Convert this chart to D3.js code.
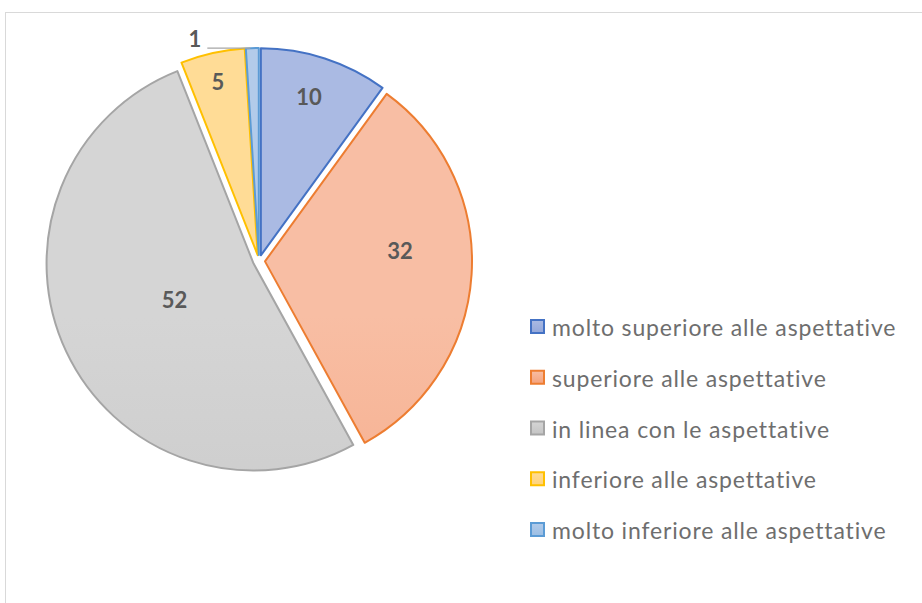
<!DOCTYPE html>
<html><head><meta charset="utf-8">
<script src="https://cdn.jsdelivr.net/npm/d3@7"></script>
<style>body{margin:0;background:#fff;}svg{display:block;}</style>
</head><body>
<svg id="c" width="922" height="603"></svg>
<script>
const categories = ["molto superiore alle aspettative","superiore alle aspettative","in linea con le aspettative","inferiore alle aspettative","molto inferiore alle aspettative"];
const values = [10, 32, 52, 5, 1];
const strokeColors = ["#4472C4","#ED7D31","#A5A5A5","#FFC000","#5B9BD5"];
const fillTop = ["#AABAE3","#F8BEA4","#D5D5D5","#FFDC96","#B2CBEA"];
const fillBottom = ["#93A7DA","#F4A27C","#C4C4C4","#FFD37C","#9BBEE4"];

const svg = d3.select("#c");
const W = 922, H = 603;
svg.append("rect").attr("x",5.5).attr("y",12.5).attr("width",W).attr("height",H)
  .attr("fill","#fff").attr("stroke","#D9D9D9").attr("stroke-width",1);

const cx = 259, cy = 261, R = 207, explode = 6;
const defs = svg.append("defs");
values.forEach((v,i)=>{
  const g = defs.append("linearGradient").attr("id","g"+i).attr("gradientUnits","userSpaceOnUse")
    .attr("x1",0).attr("y1",cy-R).attr("x2",0).attr("y2",cy+R);
  g.append("stop").attr("offset","0").attr("stop-color",fillTop[i]);
  g.append("stop").attr("offset","1").attr("stop-color",fillBottom[i]);
});

const pie = d3.pie().sort(null).value(d=>d)(values);
const arc = d3.arc().innerRadius(0).outerRadius(R);
// label placement (best-fit style): radial fraction and angle offset in degrees
const labelFrac = [0.80, 0.655, 0.42, 0.86, null];
const labelAng = [-1.1, -8.4, 0.6, -0.3, 0];

const gp = svg.append("g").attr("transform",`translate(${cx},${cy})`);
pie.forEach((p,i)=>{
  const m = (p.startAngle+p.endAngle)/2;
  const dx = Math.sin(m)*explode, dy = -Math.cos(m)*explode;
  gp.append("path").attr("d",arc(p)).attr("transform",`translate(${dx},${dy})`)
    .attr("fill",`url(#g${i})`).attr("stroke",strokeColors[i]).attr("stroke-width",2).attr("stroke-linejoin","round");
});
pie.forEach((p,i)=>{
  const m = (p.startAngle+p.endAngle)/2;
  const dx = Math.sin(m)*explode, dy = -Math.cos(m)*explode;
  if(labelFrac[i]!==null){
    const rr = R*labelFrac[i];
    const a = m + labelAng[i]*Math.PI/180;
    gp.append("text").attr("x",dx+Math.sin(a)*rr).attr("y",dy-Math.cos(a)*rr)
      .attr("text-anchor","middle").attr("dominant-baseline","central")
      .attr("font-family","Lato, sans-serif").attr("font-weight","bold").attr("font-size",22)
      .attr("fill","#595959").text(values[i]);
  } else {
    const px = dx+Math.sin(m)*R, py = dy-Math.cos(m)*R;
    gp.append("line").attr("x1",px-2).attr("y1",py).attr("x2",px-45).attr("y2",py)
      .attr("stroke","#A6A6A6").attr("stroke-width",1.2);
    gp.append("text").attr("x",px-51).attr("y",py-1).attr("text-anchor","end")
      .attr("font-family","Lato, sans-serif").attr("font-weight","bold").attr("font-size",22)
      .attr("fill","#595959").text(values[i]);
  }
});

const leg = svg.append("g");
const legY = d3.scalePoint().domain(categories).range([327, 530]);
categories.forEach((c,i)=>{
  const y = legY(c);
  const lg = defs.append("linearGradient").attr("id","lg"+i).attr("x1",0).attr("y1",0).attr("x2",0).attr("y2",1);
  lg.append("stop").attr("offset","0").attr("stop-color",fillTop[i]);
  lg.append("stop").attr("offset","1").attr("stop-color",fillBottom[i]);
  leg.append("rect").attr("x",531).attr("y",y-7).attr("width",13).attr("height",13)
    .attr("fill",`url(#lg${i})`).attr("stroke",strokeColors[i]).attr("stroke-width",2);
  leg.append("text").attr("x",552).attr("y",y).attr("dominant-baseline","central")
    .attr("font-family","Lato, sans-serif").attr("font-size",23).attr("letter-spacing",0.85)
    .attr("fill","#6E6E6E").text(c);
});
</script>
</body></html>
